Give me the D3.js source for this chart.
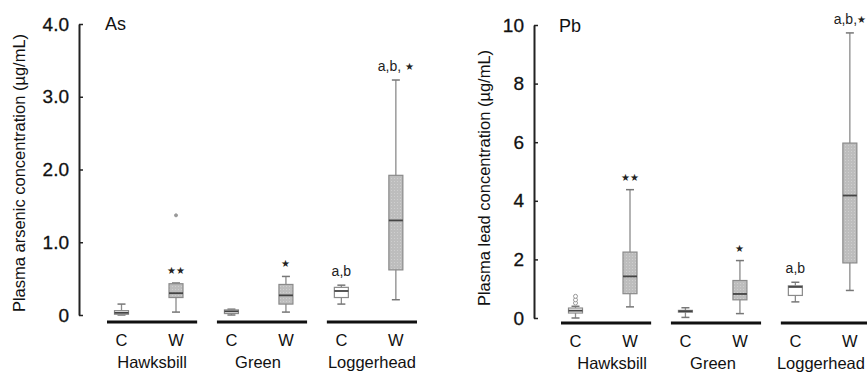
<!DOCTYPE html>
<html>
<head>
<meta charset="utf-8">
<script src="https://cdn.jsdelivr.net/npm/d3@7"></script>
<style>
  body { margin: 0; background: #fff; }
  svg { display: block; font-family: "Liberation Sans", Arial, sans-serif; }
</style>
</head>
<body>
<div id="chart"></div>
<script>
const species = ['Hawksbill', 'Green', 'Loggerhead'];
const groups = ['C', 'W'];

// box stats in order: Hawksbill C, Hawksbill W, Green C, Green W, Loggerhead C, Loggerhead W
const asMin = [0.00, 0.04, 0.00, 0.04, 0.15, 0.21];
const asQ1  = [0.01, 0.24, 0.02, 0.15, 0.24, 0.62];
const asMed = [0.03, 0.30, 0.05, 0.27, 0.33, 1.30];
const asQ3  = [0.06, 0.43, 0.07, 0.42, 0.38, 1.92];
const asMax = [0.15, 0.44, 0.08, 0.53, 0.41, 3.23];
const asOutliers = [[], [1.37], [], [], [], []];
const asNotes = ['', '', '', '', 'a,b', 'a,b, '];
const asStars = ['', '★★', '', '★', '', '★'];
const asTicks = [0, 1, 2, 3, 4];

const pbMin = [0.00, 0.38, 0.02, 0.15, 0.55, 0.94];
const pbQ1  = [0.17, 0.83, 0.20, 0.62, 0.77, 1.88];
const pbMed = [0.25, 1.42, 0.23, 0.82, 1.06, 4.18];
const pbQ3  = [0.34, 2.25, 0.26, 1.28, 1.10, 5.97];
const pbMax = [0.40, 4.38, 0.35, 1.96, 1.22, 9.73];
const pbOutliers = [[0.51, 0.62, 0.74], [], [], [], [], []];
const pbNotes = ['', '', '', '', 'a,b', 'a,b,'];
const pbStars = ['', '★★', '', '★', '', '★'];
const pbTicks = [0, 2, 4, 6, 8, 10];

const width = 867, height = 376;

const svg = d3.select('#chart').append('svg')
  .attr('width', width)
  .attr('height', height)
  .attr('viewBox', [0, 0, width, height]);

// dotted texture for the W boxes
const pat = svg.append('defs').append('pattern')
  .attr('id', 'dots')
  .attr('width', 3).attr('height', 3)
  .attr('patternUnits', 'userSpaceOnUse');
pat.append('rect').attr('width', 3).attr('height', 3).attr('fill', '#bdbdbd');
pat.append('rect').attr('x', 1).attr('y', 1).attr('width', 1).attr('height', 1).attr('fill', '#cfcfcf');

function drawPanel(cfg) {
  const g = svg.append('g').attr('transform', `translate(${cfg.dx},0)`);

  const y = d3.scaleLinear().domain([0, cfg.yMax]).range([cfg.y0, cfg.yTop]);

  const x0 = d3.scaleBand().domain(species).range([107, 417]).paddingInner(0.18);
  const x1 = d3.scalePoint().domain(groups).range([14.5, 69]);

  const boxes = [];
  species.forEach((s, i) => {
    groups.forEach((k, j) => {
      const n = i * 2 + j;
      boxes.push({
        sp: s, grp: k,
        min: cfg.min[n], q1: cfg.q1[n], med: cfg.med[n], q3: cfg.q3[n], max: cfg.max[n],
        out: cfg.outliers[n], note: cfg.notes[n], star: cfg.stars[n],
        cx: x0(s) + x1(k)
      });
    });
  });

  // y axis
  const ax = g.append('g')
    .attr('transform', `translate(${cfg.axisX},0)`)
    .call(d3.axisLeft(y)
      .tickValues(cfg.ticks)
      .tickSize(-4)
      .tickPadding(10)
      .tickSizeOuter(0)
      .tickFormat(cfg.fmt));
  ax.select('.domain').attr('stroke', '#222').attr('stroke-width', 2);
  ax.selectAll('.tick line').attr('stroke', '#222').attr('stroke-width', 1.5);
  ax.selectAll('.tick text')
    .attr('fill', '#111')
    .attr('stroke', '#111')
    .attr('stroke-width', 0.3)
    .style('font-size', '19px')
    .style('font-family', '"Liberation Sans", Arial, sans-serif');

  // y axis title
  g.append('text')
    .attr('transform', `translate(${cfg.titleX},${cfg.titleY}) rotate(-90)`)
    .attr('text-anchor', 'middle')
    .style('font-size', '16.5px')
    .attr('fill', '#111')
    .text(cfg.yTitle);

  // panel label
  g.append('text')
    .attr('x', 105).attr('y', cfg.labelY)
    .style('font-size', '18px')
    .attr('fill', '#111')
    .text(cfg.label);

  // group baselines
  g.selectAll('.gline')
    .data(species)
    .join('line')
    .attr('x1', d => x0(d)).attr('x2', d => x0(d) + x0.bandwidth())
    .attr('y1', cfg.lineY).attr('y2', cfg.lineY)
    .attr('stroke', '#111').attr('stroke-width', 3);

  // C / W labels
  g.selectAll('.glab')
    .data(boxes)
    .join('text')
    .attr('x', d => d.cx).attr('y', cfg.lineY + 24)
    .attr('text-anchor', 'middle')
    .style('font-size', '16.5px')
    .attr('fill', '#111')
    .text(d => d.grp);

  // species labels
  g.selectAll('.slab')
    .data(species)
    .join('text')
    .attr('x', (d, i) => x0(d) + x0.bandwidth() / 2 + cfg.spShift[i]).attr('y', cfg.lineY + 46)
    .attr('text-anchor', 'middle')
    .style('font-size', '16.5px')
    .attr('fill', '#111')
    .text(d => d);

  const bw = 14, cap = 8;

  // whiskers
  g.selectAll('.whisk')
    .data(boxes)
    .join('line')
    .attr('x1', d => d.cx).attr('x2', d => d.cx)
    .attr('y1', d => y(d.min)).attr('y2', d => y(d.max))
    .attr('stroke', '#8a8a8a').attr('stroke-width', 1.3);

  ['min', 'max'].forEach(key => {
    g.selectAll('.cap-' + key)
      .data(boxes)
      .join('line')
      .attr('x1', d => d.cx - cap / 2).attr('x2', d => d.cx + cap / 2)
      .attr('y1', d => y(d[key])).attr('y2', d => y(d[key]))
      .attr('stroke', '#777').attr('stroke-width', 1.5);
  });

  // boxes
  g.selectAll('.box')
    .data(boxes)
    .join('rect')
    .attr('x', d => d.cx - bw / 2)
    .attr('width', bw)
    .attr('y', d => y(d.q3))
    .attr('height', d => Math.max(1, y(d.q1) - y(d.q3)))
    .attr('fill', d => d.grp === 'W' ? 'url(#dots)' : '#fff')
    .attr('stroke', '#8a8a8a')
    .attr('stroke-width', 1.2);

  // medians
  g.selectAll('.med')
    .data(boxes)
    .join('line')
    .attr('x1', d => d.cx - bw / 2).attr('x2', d => d.cx + bw / 2)
    .attr('y1', d => y(d.med)).attr('y2', d => y(d.med))
    .attr('stroke', '#444').attr('stroke-width', 1.8);

  // outliers
  const outs = boxes.flatMap(d => d.out.map(v => ({ cx: d.cx, v: v })));
  g.selectAll('.out')
    .data(outs)
    .join('circle')
    .attr('cx', d => d.cx).attr('cy', d => y(d.v))
    .attr('r', cfg.outR)
    .attr('fill', cfg.outFill)
    .attr('stroke', '#999').attr('stroke-width', 1);

  // significance notes
  const notes = g.selectAll('.note')
    .data(boxes.filter(d => d.note || d.star))
    .join('text')
    .attr('x', d => d.cx).attr('y', d => y(d.max) - 9)
    .attr('text-anchor', 'middle')
    .style('font-size', '14px')
    .attr('fill', '#222');
  notes.append('tspan').text(d => d.note);
  notes.append('tspan')
    .style('font-size', '10px')
    .attr('dy', d => d.note ? -1 : 0)
    .text(d => d.star);
}

drawPanel({
  dx: 0, axisX: 79, y0: 315, yTop: 24, yMax: 4, ticks: asTicks,
  fmt: d => d === 0 ? '0' : d3.format('.1f')(d),
  min: asMin, q1: asQ1, med: asMed, q3: asQ3, max: asMax,
  outliers: asOutliers, notes: asNotes, stars: asStars,
  yTitle: 'Plasma arsenic concentration (µg/mL)', titleX: 25, titleY: 173,
  label: 'As', labelY: 30, lineY: 322, outR: 1.5, outFill: '#999',
  spShift: [0, -4, 0]
});

drawPanel({
  dx: 454, axisX: 80, y0: 318, yTop: 25, yMax: 10, ticks: pbTicks,
  fmt: d3.format('d'),
  min: pbMin, q1: pbQ1, med: pbMed, q3: pbQ3, max: pbMax,
  outliers: pbOutliers, notes: pbNotes, stars: pbStars,
  yTitle: 'Plasma lead concentration (µg/mL)', titleX: 36, titleY: 178,
  label: 'Pb', labelY: 32, lineY: 323, outR: 2, outFill: '#fff',
  spShift: [6, -3, -5]
});
</script>
</body>
</html>
